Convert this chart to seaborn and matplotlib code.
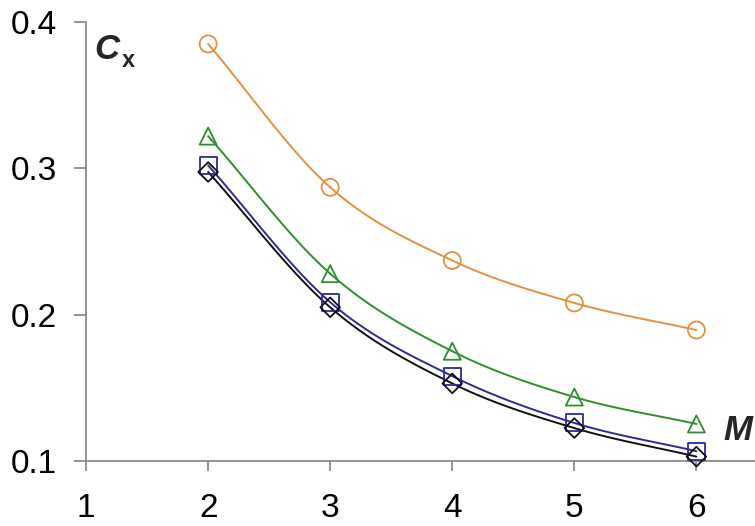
import numpy as np
import pandas as pd
import seaborn as sns
import matplotlib.pyplot as plt

# values
mach = [2, 3, 4, 5, 6]
cx_circle = [0.385, 0.287, 0.237, 0.208, 0.1895]
cx_triangle = [0.322, 0.228, 0.175, 0.1437, 0.1253]
cx_square = [0.302, 0.2085, 0.158, 0.126, 0.1067]
cx_diamond = [0.2975, 0.205, 0.153, 0.1225, 0.103]

x_ticks = [1, 2, 3, 4, 5, 6]
y_ticks = [0.1, 0.2, 0.3, 0.4]

series = [
    ("circle", cx_circle, "o", "#E3913F"),
    ("triangle", cx_triangle, "^", "#2F8F2F"),
    ("square", cx_square, "s", "#2B2B9A"),
    ("diamond", cx_diamond, "D", "#111111"),
]


def smooth(x, y, n=30):
    # catmull-rom through the points, only for drawing the curve
    x = np.asarray(x, float)
    y = np.asarray(y, float)
    px = np.concatenate([[2 * x[0] - x[1]], x, [2 * x[-1] - x[-2]]])
    py = np.concatenate([[2 * y[0] - y[1]], y, [2 * y[-1] - y[-2]]])
    xs, ys = [], []
    t = np.linspace(0, 1, n)
    for i in range(1, len(px) - 2):
        for arr, out in ((px, xs), (py, ys)):
            p0, p1, p2, p3 = arr[i - 1], arr[i], arr[i + 1], arr[i + 2]
            out.append(0.5 * ((2 * p1) + (-p0 + p2) * t
                              + (2 * p0 - 5 * p1 + 4 * p2 - p3) * t ** 2
                              + (-p0 + 3 * p1 - 3 * p2 + p3) * t ** 3))
    return np.concatenate(xs), np.concatenate(ys)


sns.set_style("white")
plt.rcParams['font.family'] = ['Liberation Sans', 'DejaVu Sans']

fig = plt.figure(figsize=(7.55, 5.26), dpi=100)
ax = fig.add_axes([0.114, 0.1236, 0.886, 0.8346])

for name, vals, mk, col in series:
    sx, sy = smooth(mach, vals)
    ax.plot(sx, sy, color=col, lw=1.4, zorder=2)
    df = pd.DataFrame({"M": mach, "Cx": vals})
    sns.scatterplot(data=df, x="M", y="Cx", marker=mk, s=150 if mk != "D" else 100,
                    facecolors="none", edgecolor=col, linewidth=1.3, ax=ax,
                    zorder=3, clip_on=False)

ax.set_xlim(1, 6.48)
ax.set_ylim(0.1, 0.4)
ax.set_xticks(x_ticks)
ax.set_yticks(y_ticks)
ax.set_xticklabels([str(v) for v in x_ticks])
ax.set_yticklabels(["%.1f" % v for v in y_ticks])
ax.set_xlabel("")
ax.set_ylabel("")

for s in ["top", "right"]:
    ax.spines[s].set_visible(False)
for s in ["left", "bottom"]:
    ax.spines[s].set_color("#8a8a8a")
    ax.spines[s].set_linewidth(1.3)

ax.tick_params(axis="both", which="major", labelsize=24, colors="#8a8a8a",
               labelcolor="black")
ax.tick_params(axis="y", direction="out", length=9, width=1.3, pad=12, left=True)
ax.tick_params(axis="x", direction="out", length=7, width=1.3, pad=16, bottom=True)

ax.text(1.07, 0.381, "C", fontsize=25, fontweight="bold", style="italic",
        ha="left", va="center")
ax.text(1.29, 0.374, "x", fontsize=17, fontweight="bold",
        ha="left", va="center")
ax.text(6.22, 0.121, "M", fontsize=25, fontweight="bold", style="italic",
        ha="left", va="center")

fig.savefig("out.png", dpi=100)
